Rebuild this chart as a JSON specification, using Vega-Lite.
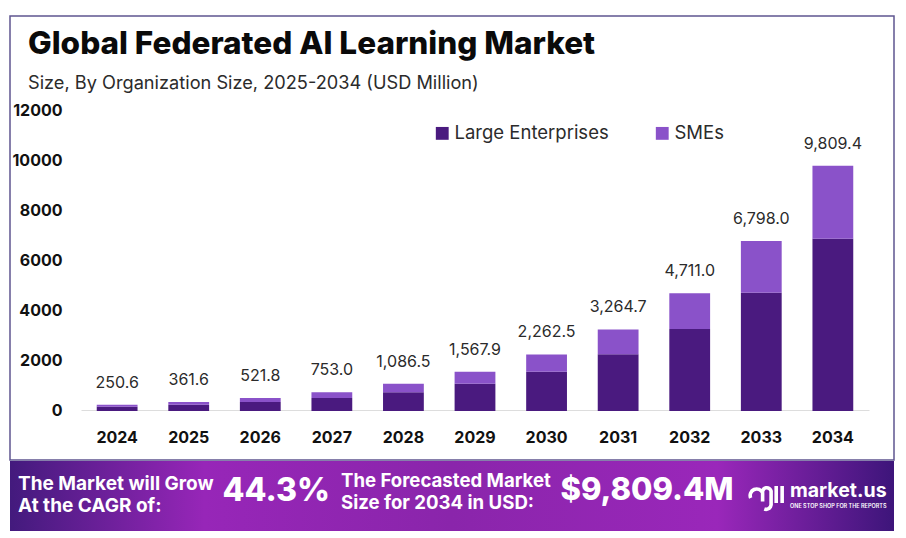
{
  "$schema": "https://vega.github.io/schema/vega-lite/v6.json",
  "description": "Global Federated AI Learning Market, stacked bars by organization size",
  "background": "#ffffff",
  "padding": {"left": 9, "top": 15, "right": 13, "bottom": 9},
  "spacing": 0,
  "config": {"font": "Inter", "concat": {"spacing": 0}},
  "datasets": {
    "segments": [
      {"year": "2024", "segment": "Large Enterprises", "value": 174},
      {"year": "2024", "segment": "SMEs", "value": 76.6},
      {"year": "2025", "segment": "Large Enterprises", "value": 251},
      {"year": "2025", "segment": "SMEs", "value": 110.6},
      {"year": "2026", "segment": "Large Enterprises", "value": 363},
      {"year": "2026", "segment": "SMEs", "value": 158.8},
      {"year": "2027", "segment": "Large Enterprises", "value": 523},
      {"year": "2027", "segment": "SMEs", "value": 230},
      {"year": "2028", "segment": "Large Enterprises", "value": 755},
      {"year": "2028", "segment": "SMEs", "value": 331.5},
      {"year": "2029", "segment": "Large Enterprises", "value": 1090},
      {"year": "2029", "segment": "SMEs", "value": 477.9},
      {"year": "2030", "segment": "Large Enterprises", "value": 1572},
      {"year": "2030", "segment": "SMEs", "value": 690.5},
      {"year": "2031", "segment": "Large Enterprises", "value": 2268},
      {"year": "2031", "segment": "SMEs", "value": 996.7},
      {"year": "2032", "segment": "Large Enterprises", "value": 3280},
      {"year": "2032", "segment": "SMEs", "value": 1431},
      {"year": "2033", "segment": "Large Enterprises", "value": 4732},
      {"year": "2033", "segment": "SMEs", "value": 2066},
      {"year": "2034", "segment": "Large Enterprises", "value": 6892},
      {"year": "2034", "segment": "SMEs", "value": 2917.4}
    ],
    "totals": [
      {"year": "2024", "total": 250.6},
      {"year": "2025", "total": 361.6},
      {"year": "2026", "total": 521.8},
      {"year": "2027", "total": 753.0},
      {"year": "2028", "total": 1086.5},
      {"year": "2029", "total": 1567.9},
      {"year": "2030", "total": 2262.5},
      {"year": "2031", "total": 3264.7},
      {"year": "2032", "total": 4711.0},
      {"year": "2033", "total": 6798.0},
      {"year": "2034", "total": 9809.4}
    ],
    "banner": [
      {"slot": "cagr", "row": "a", "kind": "label", "text": "The Market will Grow"},
      {"slot": "cagr", "row": "c", "kind": "label", "text": "At the CAGR of:"},
      {"slot": "rate", "row": "b", "kind": "rate", "text": "44.3%"},
      {"slot": "forecast", "row": "a", "kind": "label2", "text": "The Forecasted Market"},
      {"slot": "forecast", "row": "c", "kind": "label2", "text": "Size for 2034 in USD:"},
      {"slot": "size", "row": "b", "kind": "size", "text": "$9,809.4M"},
      {"slot": "brand", "row": "b", "kind": "brand", "text": "market.us"},
      {"slot": "brand", "row": "c", "kind": "tag", "text": "ONE STOP SHOP FOR THE REPORTS"}
    ]
  },
  "vconcat": [
    {
      "width": 884,
      "height": 444,
      "view": {"stroke": "#5f5690", "strokeWidth": 1.5, "fill": "#ffffff"},
      "title": {
        "text": "Global Federated AI Learning Market",
        "subtitle": "Size, By Organization Size, 2025-2034 (USD Million)",
        "anchor": "start",
        "frame": "group",
        "dx": 18,
        "offset": -76,
        "fontSize": 31.5,
        "fontWeight": 800,
        "color": "#0a0a0a",
        "subtitleFontSize": 18.2,
        "subtitleFontWeight": 400,
        "subtitleColor": "#2b2b2b",
        "subtitlePadding": 14
      },
      "layer": [
        {
          "data": {"name": "segments"},
          "mark": {"type": "bar"},
          "encoding": {
            "x": {
              "field": "year",
              "type": "ordinal",
              "scale": {"range": [71, 859], "paddingInner": 0.43, "paddingOuter": 0.22},
              "axis": {
                "title": null,
                "labelAngle": 0,
                "labelFontSize": 16,
                "labelFontWeight": 700,
                "labelColor": "#111111",
                "labelPadding": 19,
                "ticks": false,
                "domainColor": "#dddddd",
                "offset": -50
              }
            },
            "y": {
              "field": "value",
              "type": "quantitative",
              "stack": "zero",
              "scale": {"domain": [0, 12000], "range": [395, 95], "nice": false},
              "axis": {
                "title": null,
                "values": [0, 2000, 4000, 6000, 8000, 10000, 12000],
                "format": "d",
                "grid": false,
                "domain": false,
                "ticks": false,
                "labelFontSize": 16,
                "labelFontWeight": 700,
                "labelColor": "#111111",
                "labelPadding": 0,
                "labelOffset": -1,
                "offset": -52
              }
            },
            "color": {
              "field": "segment",
              "type": "nominal",
              "scale": {"domain": ["Large Enterprises", "SMEs"], "range": ["#4a1a7f", "#8a52c9"]},
              "legend": {
                "title": null,
                "orient": "none",
                "direction": "horizontal",
                "legendX": 423,
                "legendY": 108,
                "symbolType": "square",
                "symbolSize": 165,
                "symbolStrokeWidth": 0,
                "labelFontSize": 18.5,
                "labelOffset": 3,
                "labelColor": "#2b2b2b",
                "columnPadding": 44,
                "labelLimit": 220
              }
            },
            "order": {"field": "segment", "sort": "ascending"}
          }
        },
        {
          "data": {"name": "totals"},
          "mark": {"type": "text", "baseline": "bottom", "dy": -14, "fontSize": 16, "color": "#2b2b2b"},
          "encoding": {
            "x": {"field": "year", "type": "ordinal"},
            "y": {"field": "total", "type": "quantitative"},
            "text": {"field": "total", "type": "quantitative", "format": ",.1f"}
          }
        }
      ]
    },
    {
      "width": 884,
      "height": 70,
      "view": {
        "stroke": null,
        "fill": {
          "gradient": "linear",
          "x1": 0, "y1": 0, "x2": 1, "y2": 0,
          "stops": [
            {"offset": 0, "color": "#431a7d"},
            {"offset": 0.22, "color": "#9726b8"},
            {"offset": 0.5, "color": "#8a25ab"},
            {"offset": 0.8, "color": "#9a27ba"},
            {"offset": 1, "color": "#3d157a"}
          ]
        }
      },
      "data": {"name": "banner"},
      "encoding": {
        "x": {
          "field": "slot",
          "type": "ordinal",
          "scale": {"domain": ["cagr", "rate", "forecast", "size", "brand"], "range": [10, 780], "padding": 0},
          "axis": null
        },
        "y": {
          "field": "row",
          "type": "ordinal",
          "scale": {"domain": ["a", "b", "c"], "range": [23, 45], "padding": 0},
          "axis": null
        },
        "text": {"field": "text"}
      },
      "layer": [
        {
          "transform": [{"filter": "datum.kind === 'label'"}],
          "mark": {"type": "text", "align": "left", "dx": -2, "fontSize": 19, "fontWeight": 700, "color": "#ffffff"}
        },
        {
          "transform": [{"filter": "datum.kind === 'label2'"}],
          "mark": {"type": "text", "align": "left", "dx": -64, "dy": -3, "fontSize": 18.6, "fontWeight": 700, "color": "#ffffff"}
        },
        {
          "transform": [{"filter": "datum.kind === 'rate'"}],
          "mark": {"type": "text", "align": "left", "dx": 10, "dy": -4, "fontSize": 32, "fontWeight": 800, "color": "#ffffff"}
        },
        {
          "transform": [{"filter": "datum.kind === 'size'"}],
          "mark": {"type": "text", "align": "left", "dx": -37, "dy": -4, "fontSize": 31, "fontWeight": 800, "color": "#ffffff"}
        },
        {
          "transform": [{"filter": "datum.kind === 'brand'"}],
          "mark": {"type": "text", "align": "left", "dy": -4, "fontSize": 19.5, "fontWeight": 700, "color": "#ffffff"}
        },
        {
          "transform": [{"filter": "datum.kind === 'tag'"}],
          "mark": {"type": "text", "align": "left", "dy": 0, "fontSize": 5.5, "fontWeight": 600, "color": "#ffffff"}
        },
        {
          "transform": [{"filter": "datum.kind === 'brand'"}],
          "mark": {
            "type": "point",
            "shape": "M-0.9,0 A0.36,0.36 0 0 1 -0.2,-0.3 L-0.2,0.2 M-0.2,-0.3 A0.25,0.25 0 0 1 0.3,-0.4 L0.3,0.4 A0.3,0.3 0 0 1 -0.1,0.65 M0.6,-0.7 L0.6,0.3 M0.95,-0.7 L0.95,0.3",
            "filled": false,
            "stroke": "#ffffff",
            "strokeWidth": 3.6,
            "size": 1156,
            "xOffset": -24,
            "yOffset": 3,
            "opacity": 1
          },
          "encoding": {"text": null}
        }
      ]
    }
  ]
}
